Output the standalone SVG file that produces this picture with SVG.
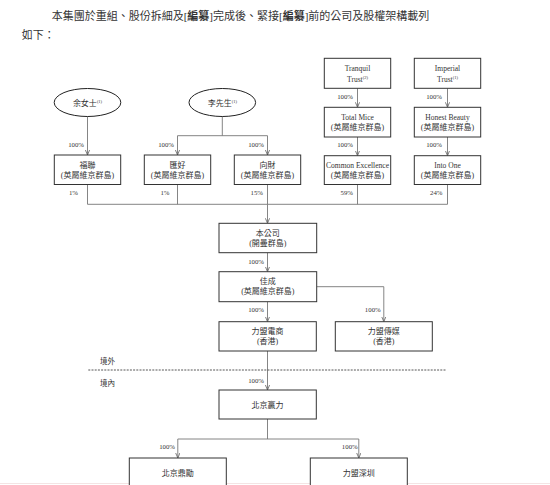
<svg xmlns="http://www.w3.org/2000/svg" width="550" height="485" viewBox="0 0 550 485">
<style>
text{font-family:"Liberation Serif","Noto Sans CJK TC",serif;fill:#333}
.t{font-size:8px;text-anchor:middle}
.e{font-size:7.5px;text-anchor:middle}
.p{font-size:6.8px;text-anchor:end}
.s{font-size:4.5px}
.box{fill:#fff;stroke:#333;stroke-width:1}
.ell{fill:#fff;stroke:#222;stroke-width:1}
.c{fill:none;stroke:#777;stroke-width:0.9}
.ca{fill:none;stroke:#777;stroke-width:0.9;marker-end:url(#ah)}
</style>
<defs>
<marker id="ah" viewBox="0 0 6 6" refX="6" refY="3" markerWidth="5" markerHeight="5" orient="auto" markerUnits="userSpaceOnUse">
<path d="M0,0.5 L6,3 L0,5.5" fill="none" stroke="#666" stroke-width="1"/>
</marker>
</defs>
<rect width="550" height="485" fill="#fff"/>
<line x1="0" y1="483.5" x2="550" y2="483.5" stroke="#f4e4e4" stroke-width="1"/>

<g id="intro">
<text x="51.7" y="20" font-size="11">本集團於重組、股份拆細及[<tspan font-weight="bold">編纂</tspan>]完成後、緊接[<tspan font-weight="bold">編纂</tspan>]前的公司及股權架構載列</text>
<text x="21.7" y="38.5" font-size="11">如下：</text>
</g>

<g id="connectors">
<path class="ca" d="M87.5,116.5 V155"/>
<path class="c" d="M222.3,116.5 V135.7 M177.5,135.7 H267.5"/>
<path class="ca" d="M177.5,135.7 V155"/>
<path class="ca" d="M267.5,135.7 V155"/>
<path class="ca" d="M357.5,88.3 V107.3"/>
<path class="ca" d="M447.5,88.3 V107.3"/>
<path class="ca" d="M357.5,137 V155.7"/>
<path class="ca" d="M447.5,137 V155.7"/>
<path class="c" d="M87.5,184.5 V204.3 M177.5,184.5 V204.3 M267.5,184.5 V204.3 M357.5,184.5 V204.3 M447.5,184.5 V204.3 M87.5,204.3 H447.5"/>
<path class="ca" d="M267.5,204.3 V223.3"/>
<path class="ca" d="M267.5,252.7 V271.7"/>
<path class="ca" d="M267.5,301.7 V321.7"/>
<path class="ca" d="M316.7,286.7 H383.8 V321.7"/>
<path class="ca" d="M267.5,351 V390"/>
<path class="c" d="M267.5,419 V439 M177.8,439 H358.8"/>
<path class="ca" d="M177.8,439 V458"/>
<path class="ca" d="M358.8,439 V458"/>
<line x1="88.3" y1="370" x2="445.7" y2="370" stroke="#444" stroke-width="0.9" stroke-dasharray="2,1.2"/>
<text class="p" x="84" y="146.5">100%</text>
<text class="p" x="174" y="146.5">100%</text>
<text class="p" x="264" y="146.5">100%</text>
<text class="p" x="353" y="99">100%</text>
<text class="p" x="442" y="99">100%</text>
<text class="p" x="353" y="146.5">100%</text>
<text class="p" x="442" y="146.5">100%</text>
<text class="p" x="78" y="195">1%</text>
<text class="p" x="169.5" y="195">1%</text>
<text class="p" x="263" y="195">15%</text>
<text class="p" x="353" y="195">59%</text>
<text class="p" x="442.5" y="195">24%</text>
<text class="p" x="264" y="263.5">100%</text>
<text class="p" x="264" y="311.5">100%</text>
<text class="p" x="380.7" y="312">100%</text>
<text class="p" x="264" y="382.5">100%</text>
<text class="p" x="175" y="448.5">100%</text>
<text class="p" x="357.7" y="448.5">100%</text>
</g>

<g id="border-labels">
<text x="100" y="364" font-size="7.5">境外</text>
<text x="100" y="385.5" font-size="7.5">境內</text>
</g>

<g id="yu">
<ellipse class="ell" cx="87.5" cy="102.5" rx="33.3" ry="14"/>
<text class="t" x="87.5" y="105.5">余女士<tspan class="s" dy="-3">(1)</tspan></text>
</g>
<g id="li">
<ellipse class="ell" cx="222.3" cy="102.5" rx="33.3" ry="14"/>
<text class="t" x="222.3" y="105.5">李先生<tspan class="s" dy="-3">(1)</tspan></text>
</g>
<g id="tranquil">
<rect class="box" x="324.3" y="58.3" width="66.4" height="30"/>
<text class="e" x="357.5" y="71">Tranquil</text>
<text class="e" x="357.5" y="82">Trust<tspan class="s" dy="-3">(2)</tspan></text>
</g>
<g id="imperial">
<rect class="box" x="414.3" y="58.3" width="66.4" height="30"/>
<text class="e" x="447.5" y="71">Imperial</text>
<text class="e" x="447.5" y="82">Trust<tspan class="s" dy="-3">(1)</tspan></text>
</g>
<g id="totalmice">
<rect class="box" x="324.3" y="107.3" width="66.4" height="29.7"/>
<text class="e" x="357.5" y="119.5">Total Mice</text>
<text class="t" x="357.5" y="129.5">(英屬維京群島)</text>
</g>
<g id="honestbeauty">
<rect class="box" x="414.3" y="107.3" width="66.4" height="29.7"/>
<text class="e" x="447.5" y="119.5">Honest Beauty</text>
<text class="t" x="447.5" y="129.5">(英屬維京群島)</text>
</g>
<g id="fulian">
<rect class="box" x="54.3" y="155" width="66.4" height="29.5"/>
<text class="t" x="87.5" y="167.5">福聯</text>
<text class="t" x="87.5" y="177.5">(英屬維京群島)</text>
</g>
<g id="huihao">
<rect class="box" x="144.3" y="155" width="66.4" height="29.5"/>
<text class="t" x="177.5" y="167.5">匯好</text>
<text class="t" x="177.5" y="177.5">(英屬維京群島)</text>
</g>
<g id="xiangcai">
<rect class="box" x="234.3" y="155" width="66.4" height="29.5"/>
<text class="t" x="267.5" y="167.5">向財</text>
<text class="t" x="267.5" y="177.5">(英屬維京群島)</text>
</g>
<g id="commonexcellence">
<rect class="box" x="324.3" y="155.7" width="66.4" height="28.8"/>
<text class="e" x="357.5" y="167.5" textLength="63" lengthAdjust="spacingAndGlyphs">Common Excellence</text>
<text class="t" x="357.5" y="177.5">(英屬維京群島)</text>
</g>
<g id="intoone">
<rect class="box" x="414.3" y="155.7" width="66.4" height="28.8"/>
<text class="e" x="447.5" y="167.5">Into One</text>
<text class="t" x="447.5" y="177.5">(英屬維京群島)</text>
</g>
<g id="company">
<rect class="box" x="219" y="223.3" width="97.7" height="29.4"/>
<text class="t" x="267.8" y="235.5">本公司</text>
<text class="t" x="267.8" y="245.5">(開曼群島)</text>
</g>
<g id="jiacheng">
<rect class="box" x="219" y="271.7" width="97.7" height="30"/>
<text class="t" x="267.8" y="284">佳成</text>
<text class="t" x="267.8" y="294">(英屬維京群島)</text>
</g>
<g id="lmds">
<rect class="box" x="219" y="321.7" width="97.3" height="29.3"/>
<text class="t" x="267.6" y="333.5">力盟電商</text>
<text class="t" x="267.6" y="344">(香港)</text>
</g>
<g id="lmcm">
<rect class="box" x="335.3" y="321.7" width="97" height="29.3"/>
<text class="t" x="383.8" y="333.5">力盟傳媒</text>
<text class="t" x="383.8" y="344">(香港)</text>
</g>
<g id="bjyl">
<rect class="box" x="219" y="390" width="97.3" height="29"/>
<text class="t" x="267.6" y="407.5">北京贏力</text>
</g>
<g id="bjdl">
<rect class="box" x="129.3" y="458" width="97" height="40"/>
<text class="t" x="177.8" y="475.5">北京鼎勵</text>
</g>
<g id="lmsz">
<rect class="box" x="310.3" y="458" width="97" height="40"/>
<text class="t" x="358.8" y="475.5">力盟深圳</text>
</g>
</svg>
